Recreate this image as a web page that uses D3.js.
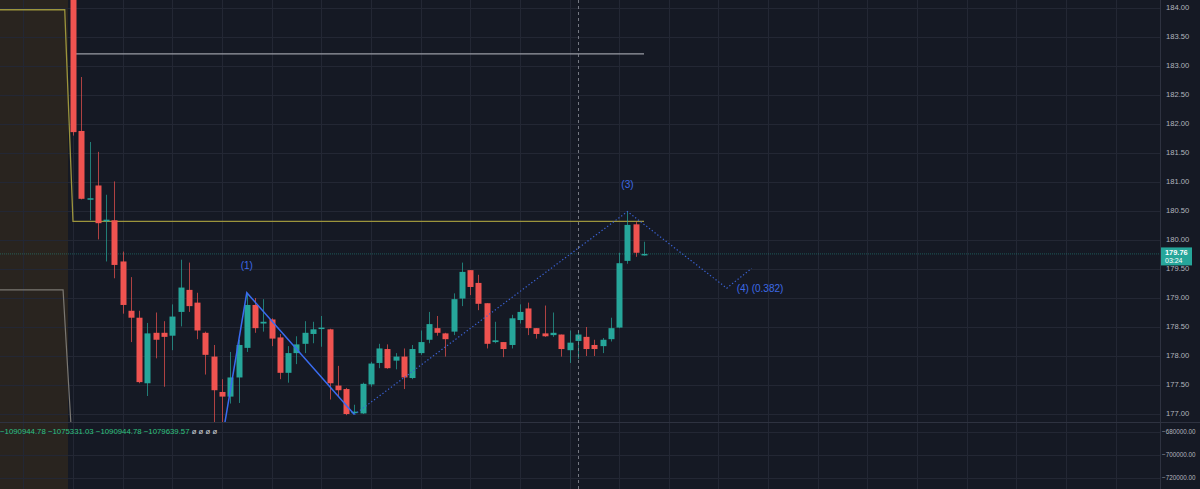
<!DOCTYPE html>
<html><head><meta charset="utf-8">
<script src="https://cdnjs.cloudflare.com/ajax/libs/d3/7.8.5/d3.min.js"></script>
<style>html,body{margin:0;padding:0;background:#151924;overflow:hidden}svg{display:block}</style>
</head><body><svg id="c" width="1200" height="489"></svg>
<script>
const opens  = [184.30,181.88,180.70,180.94,180.33,180.34,179.63,178.78,178.66,177.53,178.40,178.40,178.35,178.76,179.14,178.92,178.40,177.99,177.38,177.30,177.63,178.14,178.88,178.56,178.63,178.32,177.71,178.05,178.21,178.38,178.47,178.46,177.49,177.43,177.02,177.01,177.51,177.88,178.12,177.92,177.99,177.62,178.05,178.28,178.48,178.39,178.42,178.99,179.48,179.26,178.91,178.24,178.24,178.19,178.62,178.82,178.48,178.39,178.36,178.37,178.10,178.26,178.33,178.19,178.17,178.29,178.49,179.64,180.27,179.74];
const highs  = [184.40,182.81,181.69,181.52,180.78,181.01,179.80,179.36,178.78,178.57,178.75,178.60,178.89,179.66,179.61,179.09,178.42,178.19,177.60,178.07,178.28,179.09,179.00,178.98,178.65,178.38,178.17,178.34,178.60,178.59,178.69,178.47,177.83,177.45,177.16,177.54,177.90,178.21,178.20,178.05,178.13,178.19,178.44,178.76,178.69,178.40,179.08,179.61,179.48,179.40,178.91,178.59,178.24,178.71,178.89,178.92,178.48,178.87,178.75,178.37,178.44,178.44,178.50,178.28,178.31,178.66,179.78,180.49,180.32,179.97];
const lows   = [181.80,180.70,180.34,180.01,179.63,179.34,178.73,178.24,177.53,177.31,177.96,177.47,178.10,178.51,178.76,178.29,177.68,176.85,176.85,177.18,177.19,178.07,178.40,178.42,178.17,177.60,177.54,177.86,178.05,178.22,178.16,177.25,177.31,176.98,177.00,177.00,177.47,177.79,177.78,177.77,177.43,177.60,178.02,178.22,178.35,177.99,178.36,178.86,179.05,178.79,178.13,178.22,177.98,178.13,178.56,178.36,178.30,178.33,178.33,177.99,177.88,177.95,178.00,178.00,178.05,178.25,178.48,179.59,179.71,179.73];
const closes = [181.86,180.71,180.72,180.29,180.35,179.57,178.88,178.66,177.55,178.39,178.28,178.33,178.68,179.18,178.86,178.44,178.02,177.41,177.30,177.63,178.19,178.88,178.48,178.59,178.30,177.71,178.05,178.20,178.40,178.46,178.49,177.53,177.41,177.00,177.04,177.52,177.87,178.13,177.79,177.99,177.63,178.12,178.24,178.55,178.40,178.29,178.98,179.45,179.19,178.90,178.21,178.27,178.12,178.65,178.76,178.48,178.38,178.34,178.40,178.12,178.23,178.37,178.12,178.12,178.28,178.48,179.60,180.26,179.78,179.76];

const priceTicks = [177,177.5,178,178.5,179,179.5,180,180.5,181,181.5,182,182.5,183,183.5,184];
const lowerTicks = [-680000,-700000,-720000];
const lowerValues = ["−1090944.78","−1075331.03","−1090944.78","−1079639.57"];
const naMarks = "ø ø ø ø";

// wave (solid) and projection (dotted) points: [bar index, price]
const waveSolid = [[18.0,176.55],[21,179.09],[34,176.99]];
const waveDotted = [[34,176.99],[67,180.49],[79,179.17],[82,179.51]];
const waveLabels = [{i:21,p:179.55,t:"(1)"},{i:67,p:180.95,t:"(3)"},{i:80.2,p:179.15,t:"(4) (0.382)"}];
const yellowLine = [[-9,183.97],[-1,183.97],[0,180.32],[69,180.32]];
const greyStep = [[-9,179.14],[-1.2,179.14],[-0.2,176.7]];
const greyLevel = [[0,183.21],[69,183.21]];
const lastPrice = 179.76, lastTime = "03:24";
const crossIndex = 61;

const W=1200,H=489, axisX=1160, paneBottom=422;
const svg = d3.select("#c");
const x = d3.scaleLinear().domain([0,69]).range([73,644]);
const y = d3.scaleLinear().domain([177,184]).range([414,8]);
const y2 = d3.scaleLinear().domain([-720000,-680000]).range([478,432]);

svg.append("rect").attr("width",W).attr("height",H).attr("fill","#151924");
// session shade on left
svg.append("rect").attr("x",0).attr("y",0).attr("width",x(-0.6)).attr("height",H).attr("fill","#29241f");

const defs = svg.append("defs");
defs.append("clipPath").attr("id","main").append("rect").attr("x",0).attr("y",0).attr("width",axisX).attr("height",paneBottom);

// grids
const grid = svg.append("g");
const vIdx = d3.range(-12, 140, 6).filter(i => x(i) > 0 && x(i) < axisX);
grid.selectAll("line.v").data(vIdx).join("line")
  .attr("x1",d=>Math.round(x(d))+0.5).attr("x2",d=>Math.round(x(d))+0.5)
  .attr("y1",0).attr("y2",H).attr("stroke","#232734").attr("stroke-width",1);
grid.selectAll("line.h").data(priceTicks).join("line")
  .attr("x1",0).attr("x2",axisX).attr("y1",d=>Math.round(y(d))+0.5).attr("y2",d=>Math.round(y(d))+0.5)
  .attr("stroke","#232734");
grid.selectAll("line.h2").data(lowerTicks).join("line")
  .attr("x1",0).attr("x2",axisX).attr("y1",d=>Math.round(y2(d))+0.5).attr("y2",d=>Math.round(y2(d))+0.5)
  .attr("stroke","#232734");

const main = svg.append("g").attr("clip-path","url(#main)");
const line = d3.line().x(d=>x(d[0])).y(d=>y(d[1]));

main.append("path").attr("d",line(yellowLine)).attr("fill","none").attr("stroke","#9c943c").attr("stroke-width",1.3);
main.append("path").attr("d",line(greyStep)).attr("fill","none").attr("stroke","#7a7772").attr("stroke-width",1.2);
main.append("path").attr("d",line(greyLevel)).attr("fill","none").attr("stroke","#9a9ca4").attr("stroke-width",1.3);

// last price line
main.append("line").attr("x1",0).attr("x2",axisX).attr("y1",y(lastPrice)).attr("y2",y(lastPrice))
  .attr("stroke","#26a69a").attr("stroke-opacity",0.45).attr("stroke-dasharray","1,1");

// candles
const data = opens.map((o,i)=>({i,o,h:highs[i],l:lows[i],c:closes[i]}));
const up="#26a69a", dn="#ef5350";
const cg = main.append("g");
cg.selectAll("line.w").data(data).join("line")
  .attr("x1",d=>Math.round(x(d.i))+0.5).attr("x2",d=>Math.round(x(d.i))+0.5)
  .attr("y1",d=>y(d.h)).attr("y2",d=>y(d.l))
  .attr("stroke",d=>d.c>=d.o?up:dn).attr("stroke-opacity",0.7).attr("stroke-width",1);
cg.selectAll("rect").data(data).join("rect")
  .attr("x",d=>Math.round(x(d.i))-2.5).attr("width",6)
  .attr("y",d=>y(Math.max(d.o,d.c)))
  .attr("height",d=>Math.max(1.5, Math.abs(y(d.o)-y(d.c))))
  .attr("fill",d=>d.c>=d.o?up:dn);

// waves
main.append("path").attr("d",line(waveSolid)).attr("fill","none").attr("stroke","#3a6cf0").attr("stroke-width",1.5);
main.append("path").attr("d",line(waveDotted)).attr("fill","none").attr("stroke","#3a62d4").attr("stroke-width",1.2).attr("stroke-dasharray","1.3,2.2");
main.selectAll("text.wl").data(waveLabels).join("text")
  .attr("x",d=>x(d.i)).attr("y",d=>y(d.p)).attr("text-anchor",(d,k)=>k===2?"start":"middle")
  .attr("dominant-baseline","middle").attr("font-family","Liberation Sans, Arial, sans-serif").attr("font-size",10)
  .attr("fill","#3d6ae6").text(d=>d.t);

// pane separator and axis separator
svg.append("line").attr("x1",0).attr("x2",W).attr("y1",paneBottom+0.5).attr("y2",paneBottom+0.5).attr("stroke","#2e3240");
svg.append("line").attr("x1",axisX+0.5).attr("x2",axisX+0.5).attr("y1",0).attr("y2",H).attr("stroke","#2e3240");

// crosshair
svg.append("line").attr("x1",Math.round(x(crossIndex))+0.5).attr("x2",Math.round(x(crossIndex))+0.5).attr("y1",0).attr("y2",H)
  .attr("stroke","#8d909a").attr("stroke-width",1).attr("stroke-dasharray","3,3").attr("stroke-opacity",0.8);

// axis labels
const fnt = "Liberation Sans, Arial, sans-serif";
svg.append("g").selectAll("text").data(priceTicks).join("text")
  .attr("x",1166).attr("y",d=>y(d)).attr("dominant-baseline","middle")
  .attr("font-family",fnt).attr("font-size",7.6).attr("fill","#b2b5be").text(d=>d3.format(".2f")(d));
svg.append("g").selectAll("text").data(lowerTicks).join("text")
  .attr("x",1162).attr("y",d=>y2(d)).attr("dominant-baseline","middle")
  .attr("font-family",fnt).attr("font-size",6.3).attr("fill","#b2b5be").text(d=>d3.format(".2f")(d).replace("-","−"));

// last price label
const ly = y(lastPrice);
svg.append("rect").attr("x",axisX+1).attr("y",ly-6.5).attr("width",31).attr("height",18).attr("fill","#26a69a");
svg.append("text").attr("x",1165).attr("y",ly-0.5).attr("dominant-baseline","middle").attr("font-family",fnt)
  .attr("font-size",7.4).attr("font-weight","bold").attr("fill","#ffffff").text(lastPrice.toFixed(2));
svg.append("text").attr("x",1165).attr("y",ly+7.3).attr("dominant-baseline","middle").attr("font-family",fnt)
  .attr("font-size",7).attr("fill","#ffffff").text(lastTime);

// lower pane values
const lt = svg.append("text").attr("x",0).attr("y",432).attr("dominant-baseline","middle")
  .attr("font-family",fnt).attr("font-size",7.8);
lt.append("tspan").attr("fill","#2fc07f").text(lowerValues.join("  ") + "  ");
lt.append("tspan").attr("fill","#c9ccd3").text(naMarks);
</script></body></html>
